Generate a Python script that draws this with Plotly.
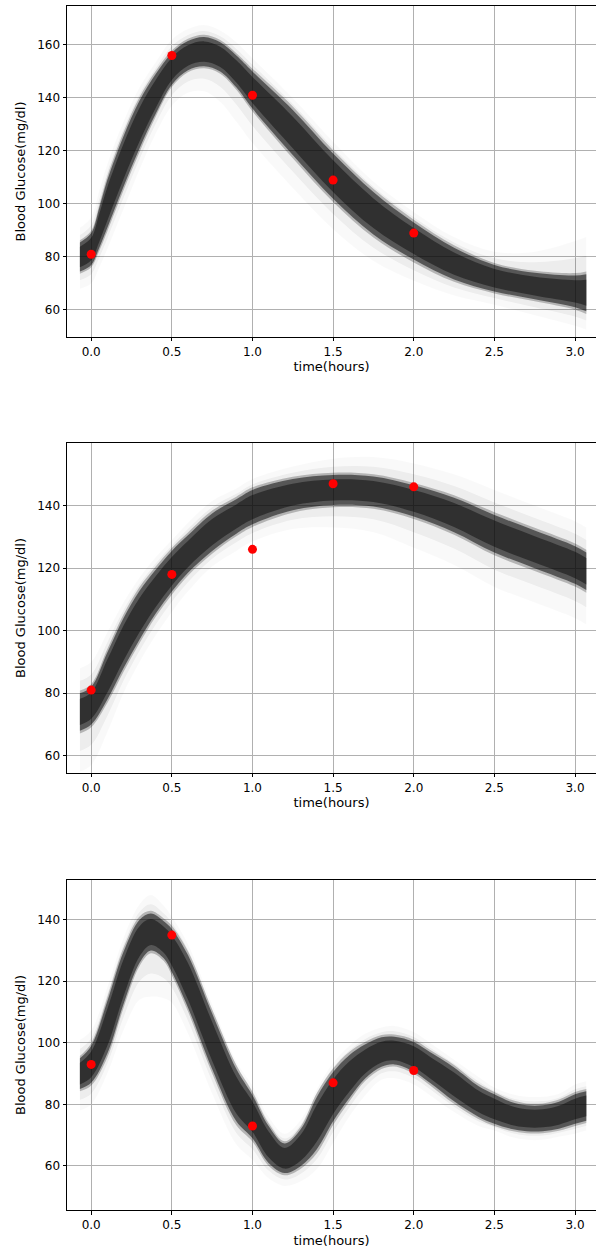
import plotly.graph_objects as go

# ---------------- data ----------------
obs_time = [0.0, 0.5, 1.0, 1.5, 2.0]
obs_glucose_1 = [81, 156, 141, 109, 89]
obs_glucose_2 = [81, 118, 126, 147, 146]
obs_glucose_3 = [93, 135, 73, 87, 91]

# posterior band: centre curve, core half-width, faint outer spread
t_1 = [-0.07, 0.0, 0.05, 0.1, 0.2, 0.3, 0.4, 0.5, 0.6, 0.7, 0.8, 0.9, 1.0, 1.25, 1.5, 1.75, 2.0, 2.25, 2.5, 2.75, 3.0, 3.07]
center_1 = [80, 83, 91, 100, 116, 130, 141.5, 151, 156, 157.5, 155.5, 150, 143, 127, 110.5, 96.5, 86, 77.5, 72, 69, 67, 66.5]
core_1 = [5.5, 6, 7.5, 9, 9.5, 9, 7.5, 6, 5.5, 5.5, 5.5, 6, 7, 8.5, 8.5, 8, 7, 6, 5, 5, 6, 7]
up_1 = [11, 12, 14, 15, 15, 14, 12, 11, 10, 10, 10, 11, 12, 13, 13, 12, 11, 10, 10, 13, 19, 21]
dn_1 = [12, 13, 15, 17, 18, 17, 15, 14, 14, 15, 17, 19, 20, 21, 20, 18, 15, 12, 10, 11, 13, 14]

t_2 = [-0.07, 0.0, 0.1, 0.2, 0.3, 0.4, 0.5, 0.6, 0.75, 0.9, 1.0, 1.25, 1.5, 1.75, 2.0, 2.25, 2.5, 2.75, 3.0, 3.07]
center_2 = [74, 76, 85.5, 96, 105, 112.5, 119, 124.5, 131.5, 136.5, 139.5, 143.5, 145, 144.5, 141.5, 137, 131, 126, 121, 119]
core_2 = [6, 6, 7.5, 8, 7.8, 7, 6.5, 6, 6, 5.5, 5.5, 5, 4.8, 4.8, 5, 5.5, 6, 6, 6, 6]
up_2 = [14, 14, 14, 13, 12, 11, 10, 10, 10, 9, 9, 9, 10, 11, 12, 13, 14, 14, 14, 14]
dn_2 = [19, 19, 18, 16, 15, 14, 13, 12, 11, 11, 11, 11, 12, 13, 15, 16, 17, 17, 17, 17]

t_3 = [-0.07, 0.0, 0.1, 0.2, 0.3, 0.37, 0.45, 0.5, 0.6, 0.75, 0.9, 1.0, 1.1, 1.2, 1.3, 1.4, 1.5, 1.6, 1.7, 1.8, 1.88, 2.0, 2.1, 2.25, 2.4, 2.5, 2.6, 2.7, 2.8, 2.9, 3.0, 3.07]
center_3 = [90, 93, 105, 121, 133, 136, 133.5, 130, 120, 100.5, 83, 76, 67, 62.5, 66, 74, 82.5, 89, 94, 97, 97.5, 95.5, 92, 86.5, 81, 78.5, 76.5, 75.5, 75.5, 76.5, 78.5, 79.5]
core_3 = [5, 6, 8.5, 8.5, 7, 6, 6, 7, 8.5, 9, 8.5, 7, 6, 4.8, 6, 8.5, 8, 7, 5.5, 4.8, 4.5, 4.8, 5, 5.5, 5, 4.8, 4.4, 4.2, 4.2, 4.4, 4.8, 4.8]
up_3 = [11, 11, 13, 13, 12, 12, 11, 11, 12, 12, 11, 10, 9, 8, 9, 11, 11, 10, 9, 8, 8, 8, 8, 8, 8, 7, 7, 7, 7, 7, 8, 8]
dn_3 = [12, 13, 15, 17, 19, 21, 19, 17, 17, 17, 16, 14, 11, 9, 11, 15, 15, 13, 11, 9, 9, 9, 9, 9, 8, 7, 7, 7, 7, 7, 8, 8]

x_ticks = [0.0, 0.5, 1.0, 1.5, 2.0, 2.5, 3.0]
x_tick_text = ["0.0", "0.5", "1.0", "1.5", "2.0", "2.5", "3.0"]
y_ticks_1 = [60, 80, 100, 120, 140, 160]
y_ticks_2 = [60, 80, 100, 120, 140]
y_ticks_3 = [60, 80, 100, 120, 140]

panels = [
    dict(t=t_1, c=center_1, core=core_1, up=up_1, dn=dn_1, ox=obs_time, oy=obs_glucose_1,
         yt=y_ticks_1, yr=[49.8, 174.7], dom=[0.7251, 1.0]),
    dict(t=t_2, c=center_2, core=core_2, up=up_2, dn=dn_2, ox=obs_time, oy=obs_glucose_2,
         yt=y_ticks_2, yr=[54.5, 160.0], dom=[0.3630, 0.6370]),
    dict(t=t_3, c=center_3, core=core_3, up=up_3, dn=dn_3, ox=obs_time, oy=obs_glucose_3,
         yt=y_ticks_3, yr=[45.7, 152.9], dom=[0.0, 0.2741]),
]

fig = go.Figure()

TICKFONT = dict(family="DejaVu Sans", size=12, color="black")
TITLEFONT = dict(family="DejaVu Sans", size=13, color="black")


def band(fig, t, lo, hi, alpha, xa, ya):
    fig.add_trace(go.Scatter(x=t, y=lo, mode="lines", line=dict(width=0, shape="spline"),
                             hoverinfo="skip", showlegend=False, xaxis=xa, yaxis=ya))
    fig.add_trace(go.Scatter(x=t, y=hi, mode="lines", line=dict(width=0, shape="spline"),
                             fill="tonexty", fillcolor=f"rgba(10,10,10,{alpha})",
                             hoverinfo="skip", showlegend=False, xaxis=xa, yaxis=ya))


for i, p in enumerate(panels):
    n = "" if i == 0 else str(i + 1)
    xa, ya = "x" + n, "y" + n
    t, c, core, up, dn = p["t"], p["c"], p["core"], p["up"], p["dn"]
    # faint outer layers
    band(fig, t, [ci - d for ci, d in zip(c, dn)], [ci + u for ci, u in zip(c, up)], 0.025, xa, ya)
    band(fig, t, [ci - (k + d) / 2 for ci, k, d in zip(c, core, dn)],
         [ci + (k + u) / 2 for ci, k, u in zip(c, core, up)], 0.05, xa, ya)
    # core layers
    band(fig, t, [ci - k * 1.15 for ci, k in zip(c, core)], [ci + k * 1.15 for ci, k in zip(c, core)], 0.25, xa, ya)
    band(fig, t, [ci - k for ci, k in zip(c, core)], [ci + k for ci, k in zip(c, core)], 0.55, xa, ya)
    band(fig, t, [ci - k * 0.7 for ci, k in zip(c, core)], [ci + k * 0.7 for ci, k in zip(c, core)], 0.5, xa, ya)
    # observations
    fig.add_trace(go.Scatter(x=p["ox"], y=p["oy"], mode="markers",
                             marker=dict(color="#ff0000", size=9, line=dict(width=0)),
                             showlegend=False, xaxis=xa, yaxis=ya))

    axis_common = dict(showline=True, linecolor="black", linewidth=1, mirror=True,
                       ticks="outside", ticklen=3.5, tickwidth=1, tickcolor="black",
                       showgrid=True, gridcolor="#b0b0b0", gridwidth=0.8,
                       zeroline=False, tickfont=TICKFONT)
    fig.update_layout(**{
        ("xaxis" + n): dict(axis_common, domain=[0, 1], range=[-0.15, 3.13],
                            tickvals=x_ticks, ticktext=x_tick_text, anchor=ya,
                            title=dict(text="time(hours)", font=TITLEFONT, standoff=4)),
        ("yaxis" + n): dict(axis_common, domain=p["dom"], range=p["yr"],
                            tickvals=p["yt"], anchor=xa,
                            title=dict(text="Blood Glucose(mg/dl)", font=TITLEFONT, standoff=8)),
    })

fig.update_layout(width=596, height=1254, margin=dict(l=67, r=0, t=6, b=44),
                  plot_bgcolor="white", paper_bgcolor="white", font=TICKFONT)

fig.write_html("out.html")
